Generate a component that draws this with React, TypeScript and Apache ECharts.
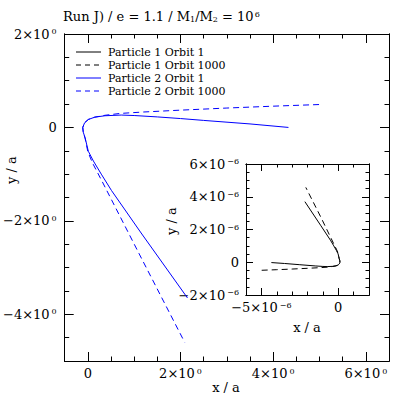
import React, { useEffect, useRef } from "react";
import * as echarts from "echarts";

// ---- data ----
// Particle 2 (blue), main panel, units of a
const p2o1X = [4.33, 3.5, 2.5, 2.0, 1.5, 1.0, 0.72, 0.37, 0.15, 0.01, -0.07, -0.11, -0.1, -0.06, 0.01, 0.12, 0.29, 0.51, 1.15, 2.15];
const p2o1Y = [0.0, 0.075, 0.15, 0.19, 0.225, 0.255, 0.265, 0.25, 0.22, 0.17, 0.1, 0.0, -0.1, -0.22, -0.51, -0.72, -1.0, -1.35, -2.26, -3.65];
const p2o1000X = [4.99, 4.0, 3.0, 2.0, 1.2, 0.7, 0.37, 0.15, 0.01, -0.07, -0.11, -0.1, -0.06, 0.0, 0.1, 0.3, 1.12, 2.09];
const p2o1000Y = [0.49, 0.455, 0.415, 0.37, 0.33, 0.3, 0.26, 0.22, 0.17, 0.1, 0.0, -0.1, -0.23, -0.52, -0.76, -1.14, -2.73, -4.6];
// Particle 1 (black), inset panel, units of a
const p1o1X = [-4.35e-6, -3.5e-6, -2.5e-6, -1.5e-6, -1.0e-6, -0.72e-6, -0.37e-6, -0.15e-6, -0.01e-6, 0.07e-6, 0.11e-6, 0.1e-6, 0.06e-6, -0.01e-6, -0.12e-6, -0.29e-6, -0.51e-6, -1.15e-6, -2.17e-6];
const p1o1Y = [-0.02e-6, -0.075e-6, -0.15e-6, -0.225e-6, -0.255e-6, -0.265e-6, -0.25e-6, -0.22e-6, -0.17e-6, -0.1e-6, 0.0, 0.1e-6, 0.22e-6, 0.51e-6, 0.72e-6, 1.0e-6, 1.35e-6, 2.26e-6, 3.7e-6];
const p1o1000X = [-4.98e-6, -4.0e-6, -3.0e-6, -2.0e-6, -1.2e-6, -0.7e-6, -0.37e-6, -0.15e-6, -0.01e-6, 0.07e-6, 0.11e-6, 0.1e-6, 0.06e-6, 0.0, -0.1e-6, -0.3e-6, -1.12e-6, -2.11e-6];
const p1o1000Y = [-0.49e-6, -0.455e-6, -0.415e-6, -0.37e-6, -0.33e-6, -0.3e-6, -0.26e-6, -0.22e-6, -0.17e-6, -0.1e-6, 0.0, 0.1e-6, 0.23e-6, 0.52e-6, 0.76e-6, 1.14e-6, 2.73e-6, 4.57e-6];

const seriesNames = ["Particle 1 Orbit 1", "Particle 1 Orbit 1000", "Particle 2 Orbit 1", "Particle 2 Orbit 1000"];

// ---- ticks ----
const mainXMajor = [0, 2, 4, 6];
const mainXMinor = [-0.5, 0, 0.5, 1, 1.5, 2, 2.5, 3, 3.5, 4, 4.5, 5, 5.5, 6, 6.5];
const mainYMajor = [-4, -2, 0, 2];
const mainYMinor = [-5, -4.5, -4, -3.5, -3, -2.5, -2, -1.5, -1, -0.5, 0, 0.5, 1, 1.5, 2];
const insetXMajor = [-5e-6, 0];
const insetXMinor = [-6e-6, -5e-6, -4e-6, -3e-6, -2e-6, -1e-6, 0, 1e-6, 2e-6];
const insetYMajor = [-2e-6, 0, 2e-6, 4e-6, 6e-6];
const insetYMinor = [-2e-6, -1.5e-6, -1e-6, -0.5e-6, 0, 0.5e-6, 1e-6, 1.5e-6, 2e-6, 2.5e-6, 3e-6, 3.5e-6, 4e-6, 4.5e-6, 5e-6, 5.5e-6, 6e-6];

const F = "DejaVu Serif";
const BLUE = "#0000ff";
const BLACK = "#000000";
const DASH = [6, 4];
const seriesColors = [BLACK, BLACK, BLUE, BLUE];
const seriesDashed = [false, true, false, true];

const rich = {
  m: { fontFamily: F, fontSize: 13, fontWeight: "normal", color: BLACK },
  s: { fontFamily: F, fontSize: 8, fontWeight: "normal", color: BLACK, verticalAlign: "top", padding: [0, 0, 0, 2] },
};

function sci(v: number): string {
  if (Math.abs(v) < 1e-15) return "{m|0}";
  const e = Math.floor(Math.log10(Math.abs(v)) + 1e-9);
  const m = Math.round(v / Math.pow(10, e));
  const ms = (m < 0 ? "\u2212" : "") + Math.abs(m);
  const es = (e < 0 ? "\u2212" : "") + Math.abs(e);
  return `{m|${ms}\u00d710}{s|${es}}`;
}

function mkAxis(gridIndex: number, position: string, min: number, max: number, ticks: number[], len: number, labels: boolean, margin = 6) {
  return {
    type: "value",
    gridIndex,
    position,
    min,
    max,
    axisLine: { show: true, onZero: false, lineStyle: { color: BLACK, width: 1 } },
    axisTick: { show: true, inside: true, length: len, customValues: ticks, lineStyle: { color: BLACK, width: 1 } },
    axisLabel: labels
      ? { show: true, customValues: ticks, formatter: sci, margin, rich }
      : { show: false },
    splitLine: { show: false },
    minorTick: { show: false },
  };
}

const zip = (xs: number[], ys: number[]) => xs.map((x, i) => [x, ys[i]]);

// legend drawn as graphic elements (key lines + real text)
function legendGraphics() {
  const out: any[] = [];
  const left = 76, lineLen = 25, textX = 108, top = 52, step = 13;
  seriesNames.forEach((n, i) => {
    const y = top + i * step;
    out.push({
      type: "line",
      shape: { x1: left, y1: y, x2: left + lineLen, y2: y },
      style: { stroke: seriesColors[i], lineWidth: 1, lineDash: seriesDashed[i] ? [5, 4] : null },
      silent: true,
    });
    out.push({
      type: "text",
      x: textX,
      y,
      style: { text: n, font: `11px "${F}"`, fill: BLACK, align: "left", verticalAlign: "middle" },
      silent: true,
    });
  });
  return out;
}

export default function App() {
  const ref = useRef<HTMLDivElement>(null);
  useEffect(() => {
    if (!ref.current) return;
    const chart = echarts.init(ref.current, null, { renderer: "svg" });
    const option: any = {
      animation: false,
      backgroundColor: "#ffffff",
      color: seriesColors,
      title: {
        left: 63,
        top: 10,
        padding: 0,
        text: "{t|Run J) / e = 1.1 / M}{b|1}{t|/M}{b|2}{t| = 10}{p|6}",
        textStyle: {
          fontWeight: "normal",
          rich: {
            t: { fontFamily: F, fontSize: 13, fontWeight: "normal", color: BLACK },
            b: { fontFamily: F, fontSize: 8, fontWeight: "normal", color: BLACK, verticalAlign: "bottom" },
            p: { fontFamily: F, fontSize: 8, fontWeight: "normal", color: BLACK, verticalAlign: "top", padding: [0, 0, 0, 1] },
          },
        },
      },
      grid: [
        { left: 63, top: 34, width: 326, height: 327, show: false },
        { left: 246, top: 164, width: 123, height: 131, show: true, backgroundColor: "#ffffff", borderWidth: 0 },
      ],
      xAxis: [
        mkAxis(0, "bottom", -0.5, 6.5, mainXMajor, 9, true, 6),
        mkAxis(0, "top", -0.5, 6.5, mainXMajor, 9, false),
        mkAxis(0, "top", -0.5, 6.5, mainXMinor, 4.5, false),
        mkAxis(0, "bottom", -0.5, 6.5, mainXMinor, 4.5, false),
        mkAxis(1, "bottom", -6e-6, 2e-6, insetXMajor, 7, true, 6),
        mkAxis(1, "top", -6e-6, 2e-6, insetXMajor, 7, false),
        mkAxis(1, "top", -6e-6, 2e-6, insetXMinor, 3.5, false),
        mkAxis(1, "bottom", -6e-6, 2e-6, insetXMinor, 3.5, false),
      ],
      yAxis: [
        mkAxis(0, "left", -5, 2, mainYMajor, 9, true, 8),
        mkAxis(0, "right", -5, 2, mainYMajor, 9, false),
        mkAxis(0, "right", -5, 2, mainYMinor, 4.5, false),
        mkAxis(0, "left", -5, 2, mainYMinor, 4.5, false),
        mkAxis(1, "left", -2e-6, 6e-6, insetYMajor, 7, true, 7),
        mkAxis(1, "right", -2e-6, 6e-6, insetYMajor, 7, false),
        mkAxis(1, "right", -2e-6, 6e-6, insetYMinor, 3.5, false),
        mkAxis(1, "left", -2e-6, 6e-6, insetYMinor, 3.5, false),
      ],
      graphic: [
        ...legendGraphics(),
        { type: "text", x: 226, y: 387, style: { text: "x / a", font: `13px "${F}"`, fill: BLACK, align: "center", verticalAlign: "middle" } },
        { type: "text", x: 11, y: 170, rotation: Math.PI / 2, style: { text: "y / a", font: `13px "${F}"`, fill: BLACK, align: "center", verticalAlign: "middle" } },
        { type: "text", x: 307, y: 327, style: { text: "x / a", font: `13px "${F}"`, fill: BLACK, align: "center", verticalAlign: "middle" } },
        { type: "text", x: 171, y: 221, rotation: Math.PI / 2, style: { text: "y / a", font: `13px "${F}"`, fill: BLACK, align: "center", verticalAlign: "middle" } },
      ],
      series: [
        {
          name: seriesNames[0], type: "line", xAxisIndex: 4, yAxisIndex: 4, symbol: "none", clip: true, color: BLACK,
          lineStyle: { color: BLACK, width: 1 }, data: zip(p1o1X, p1o1Y),
        },
        {
          name: seriesNames[1], type: "line", xAxisIndex: 4, yAxisIndex: 4, symbol: "none", clip: true, color: BLACK,
          lineStyle: { color: BLACK, width: 1, type: DASH }, data: zip(p1o1000X, p1o1000Y),
        },
        {
          name: seriesNames[2], type: "line", xAxisIndex: 0, yAxisIndex: 0, symbol: "none", clip: true, color: BLUE,
          lineStyle: { color: BLUE, width: 1 }, data: zip(p2o1X, p2o1Y),
        },
        {
          name: seriesNames[3], type: "line", xAxisIndex: 0, yAxisIndex: 0, symbol: "none", clip: true, color: BLUE,
          lineStyle: { color: BLUE, width: 1, type: DASH }, data: zip(p2o1000X, p2o1000Y),
        },
      ],
    };
    chart.setOption(option);
    return () => chart.dispose();
  }, []);
  return <div ref={ref} style={{ width: 411, height: 411, position: "absolute", left: 0, top: 0 }} />;
}
